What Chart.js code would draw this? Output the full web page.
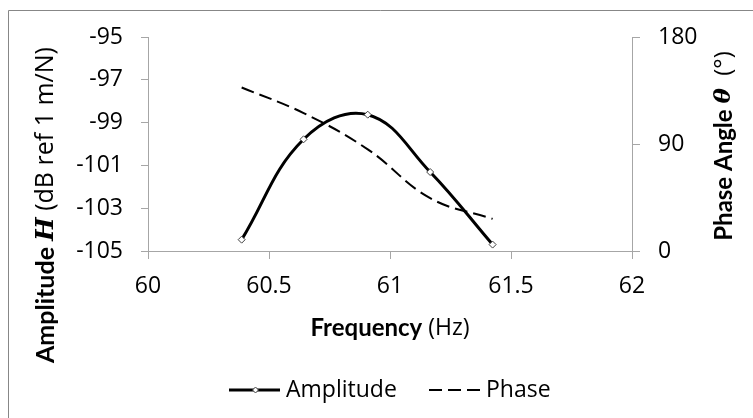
<!DOCTYPE html>
<html lang="en">
<head>
    <meta charset="UTF-8">
    <title>Amplitude and phase</title>
    <script src="https://cdn.jsdelivr.net/npm/chart.js"></script>
    <style>
        html, body { margin: 0; padding: 0; background: #fff; }
        #wrap { position: relative; width: 753px; height: 418px; }
    </style>
</head>
<body>
<div id="wrap">
    <canvas id="bode"></canvas>
</div>

<script>
    // values
    const frequency = [60.387, 60.643, 60.908, 61.166, 61.424];
    const amplitude = [-104.47, -99.78, -98.63, -101.31, -104.70];
    const phase = [137.5, 116, 85.5, 44.5, 27];

    const FONT = '"Open Sans"';
    const AXIS = '#a6a6a6';

    // axis titles with mixed bold / italic parts
    const leftTitle = [
        ['Amplitude ', 'bold 25px Lato'],
        ['H', 'bold italic 25px "DejaVu Serif"'],
        [' (dB ref 1 m/N)', '25px ' + FONT]
    ];
    const rightTitle = [
        ['Phase Angle ', 'bold 24px Lato'],
        ['θ', 'bold italic 23px "DejaVu Serif"'],
        ['  (°)', '24px ' + FONT]
    ];
    const bottomTitle = [
        ['Frequency', 'bold 24px Lato'],
        [' (Hz)', '23px ' + FONT]
    ];

    function richText(ctx, parts, cx, cy, rot) {
        let total = 0;
        parts.forEach(p => { ctx.font = p[1]; total += ctx.measureText(p[0]).width; });
        ctx.save();
        ctx.translate(cx, cy);
        ctx.rotate(rot);
        ctx.fillStyle = '#000';
        ctx.textBaseline = 'middle';
        ctx.textAlign = 'left';
        let x = -total / 2;
        parts.forEach(p => {
            ctx.font = p[1];
            ctx.fillText(p[0], x, 0);
            x += ctx.measureText(p[0]).width;
        });
        ctx.restore();
    }

    const decor = {
        id: 'decor',
        beforeDraw(chart) {
            const ctx = chart.ctx;
            ctx.save();
            ctx.strokeStyle = '#878787';
            ctx.lineWidth = 1;
            ctx.beginPath();
            ctx.moveTo(8.5, 418);
            ctx.lineTo(8.5, 10.5);
            ctx.lineTo(753, 10.5);
            ctx.stroke();
            ctx.restore();
        },
        afterDraw(chart) {
            const ctx = chart.ctx;
            const area = chart.chartArea;
            richText(ctx, leftTitle, 46, 205, -Math.PI / 2);
            richText(ctx, rightTitle, 724, 146, -Math.PI / 2);
            richText(ctx, bottomTitle, (area.left + area.right) / 2, 328, 0);

            // legend
            const ds = chart.data.datasets;
            const y = 390;
            ctx.save();
            ctx.strokeStyle = '#000';
            ctx.lineWidth = 3;
            ctx.beginPath();
            ctx.moveTo(229, y);
            ctx.lineTo(280, y);
            ctx.stroke();
            ctx.fillStyle = '#fff';
            ctx.strokeStyle = '#404040';
            ctx.lineWidth = 1;
            ctx.beginPath();
            ctx.moveTo(255.5, y - 3);
            ctx.lineTo(258.5, y);
            ctx.lineTo(255.5, y + 3);
            ctx.lineTo(252.5, y);
            ctx.closePath();
            ctx.fill();
            ctx.stroke();

            ctx.strokeStyle = '#000';
            ctx.lineWidth = 2;
            ctx.setLineDash(ds[1].borderDash);
            ctx.beginPath();
            ctx.moveTo(429, y);
            ctx.lineTo(481, y);
            ctx.stroke();
            ctx.setLineDash([]);

            ctx.fillStyle = '#000';
            ctx.font = '23px ' + FONT;
            ctx.textBaseline = 'middle';
            ctx.fillText(ds[0].label, 286, y);
            ctx.fillText(ds[1].label, 486, y);
            ctx.restore();
        }
    };

    const tickFont = { family: FONT, size: 23 };

    new Chart(document.getElementById('bode').getContext('2d'), {
        type: 'line',
        data: {
            datasets: [{
                label: 'Amplitude',
                data: frequency.map((f, i) => ({ x: f, y: amplitude[i] })),
                yAxisID: 'y',
                borderColor: '#000',
                borderWidth: 3,
                tension: 0.4,
                pointStyle: 'rectRot',
                pointRadius: 3.5,
                pointBackgroundColor: '#fff',
                pointBorderColor: '#404040',
                pointBorderWidth: 1
            }, {
                label: 'Phase',
                data: frequency.map((f, i) => ({ x: f, y: phase[i] })),
                yAxisID: 'y1',
                borderColor: '#000',
                borderWidth: 2,
                borderDash: [13, 6],
                tension: 0.4,
                pointRadius: 0
            }]
        },
        options: {
            responsive: true,
            maintainAspectRatio: false,
            animation: false,
            layout: { padding: { left: 0, right: 0, top: 37, bottom: 0 } },
            plugins: {
                legend: { display: false },
                tooltip: { enabled: false }
            },
            scales: {
                x: {
                    type: 'linear',
                    min: 60,
                    max: 62,
                    ticks: {
                        stepSize: 0.5, color: '#000', font: tickFont, padding: 14, maxRotation: 0,
                        callback: v => String(Number(v))
                    },
                    grid: { drawOnChartArea: false, tickLength: 8, color: AXIS },
                    border: { color: AXIS },
                    afterFit(s) { s.height = 418 - 251; }
                },
                y: {
                    position: 'left',
                    min: -105,
                    max: -95,
                    ticks: { stepSize: 2, color: '#000', font: tickFont, padding: 18 },
                    grid: { drawOnChartArea: false, tickLength: 7, color: AXIS },
                    border: { color: AXIS },
                    afterFit(s) { s.width = 148; }
                },
                y1: {
                    position: 'right',
                    min: 0,
                    max: 180,
                    ticks: { stepSize: 90, color: '#000', font: tickFont, padding: 18 },
                    grid: { drawOnChartArea: false, tickLength: 8, color: AXIS },
                    border: { color: AXIS },
                    afterFit(s) { s.width = 753 - 632; }
                }
            }
        },
        plugins: [decor]
    });
</script>
</body>
</html>
